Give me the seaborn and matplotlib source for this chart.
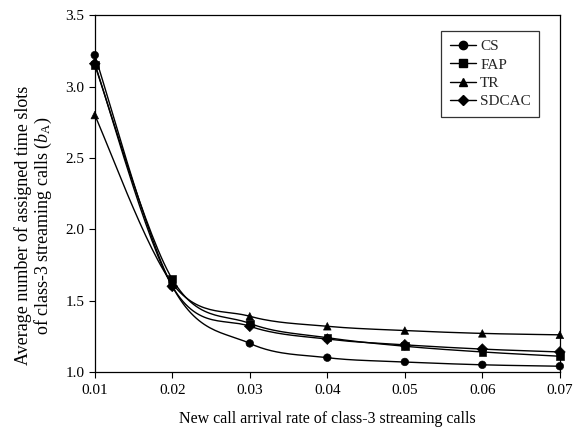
import numpy as np
import pandas as pd
import matplotlib
matplotlib.use("Agg")
import matplotlib.pyplot as plt
import seaborn as sns
from matplotlib.lines import Line2D

rates = [0.01, 0.02, 0.03, 0.04, 0.05, 0.06, 0.07]
cs = [3.22, 1.60, 1.20, 1.10, 1.07, 1.05, 1.04]
fap = [3.15, 1.65, 1.34, 1.24, 1.18, 1.14, 1.11]
tr = [2.80, 1.62, 1.39, 1.32, 1.29, 1.27, 1.26]
sdcac = [3.16, 1.60, 1.32, 1.23, 1.19, 1.16, 1.14]
series_names = ["CS", "FAP", "TR", "SDCAC"]
markers = {"CS": "o", "FAP": "s", "TR": "^", "SDCAC": "D"}
msizes = {"CS": 6, "FAP": 6, "TR": 6, "SDCAC": 5.5}

df = pd.DataFrame({
    "rate": rates * 4,
    "value": cs + fap + tr + sdcac,
    "scheme": sum([[n] * len(rates) for n in series_names], []),
})

sns.set_theme(style="white")
plt.rcParams["font.family"] = ["Liberation Serif", "DejaVu Serif"]
plt.rcParams["mathtext.fontset"] = "custom"
plt.rcParams["mathtext.rm"] = "Liberation Serif"
plt.rcParams["mathtext.it"] = "Liberation Serif:italic"

fig = plt.figure(figsize=(5.85, 4.34), dpi=100)
ax = fig.add_axes([0.162, 0.143, 0.795, 0.822])


def smooth(xs, ys, n=30):
    P = np.column_stack([xs, ys]).astype(float)
    m = len(P)
    out = []
    for i in range(m - 1):
        p0 = P[max(i - 1, 0)]
        p1 = P[i]
        p2 = P[i + 1]
        p3 = P[min(i + 2, m - 1)]
        c1 = p1 + (p2 - p0) / 6.0
        c2 = p2 - (p3 - p1) / 6.0
        t = np.linspace(0, 1, n)[:, None]
        seg = ((1 - t) ** 3) * p1 + 3 * ((1 - t) ** 2) * t * c1 + 3 * (1 - t) * t ** 2 * c2 + t ** 3 * p2
        out.append(seg if i == 0 else seg[1:])
    out = np.vstack(out)
    return out[:, 0], out[:, 1]


for name in series_names:
    sub = df[df["scheme"] == name]
    sx, sy = smooth(sub["rate"].values, sub["value"].values)
    ax.plot(sx, sy, color="black", lw=1.0, zorder=2, clip_on=False)

sns.scatterplot(data=df, x="rate", y="value", style="scheme", markers=markers,
                color="black", s=30, edgecolor="black", legend=False, ax=ax, zorder=3,
                clip_on=False)

ax.set_xlim(0.01, 0.07)
ax.set_ylim(1.0, 3.5)
ax.set_xticks(rates)
ax.set_xticklabels([f"{r:.2f}" for r in rates])
ax.set_yticks([1.0, 1.5, 2.0, 2.5, 3.0, 3.5])
ax.set_yticklabels(["1.0", "1.5", "2.0", "2.5", "3.0", "3.5"])
ax.tick_params(axis="both", which="both", direction="out", length=4, width=0.8,
               colors="black", labelsize=11, bottom=True, left=True)
ax.tick_params(axis="x", pad=5)
for sp in ax.spines.values():
    sp.set_color("black")
    sp.set_linewidth(0.9)

ax.set_xlabel("New call arrival rate of class-3 streaming calls", fontsize=11.5,
              color="black", labelpad=10)
ax.set_ylabel("Average number of assigned time slots\nof class-3 streaming calls ($b_{\\mathrm{A}}$)",
              fontsize=13, color="black", labelpad=10, linespacing=1.05)
ax.yaxis.set_label_coords(-0.087, 0.41)

handles = [Line2D([0], [0], color="black", lw=1.0, marker=markers[n], markersize=msizes[n],
                  markerfacecolor="black", markeredgecolor="black") for n in series_names]
leg = ax.legend(handles, series_names, loc="upper right", bbox_to_anchor=(0.956, 0.955),
                fontsize=11, frameon=True, fancybox=False, edgecolor="black",
                handlelength=1.7, borderpad=0.55, labelspacing=0.3, handletextpad=0.3,
                borderaxespad=0.0)
leg.get_frame().set_linewidth(0.9)

fig.savefig("out.png", dpi=100, facecolor="white")
